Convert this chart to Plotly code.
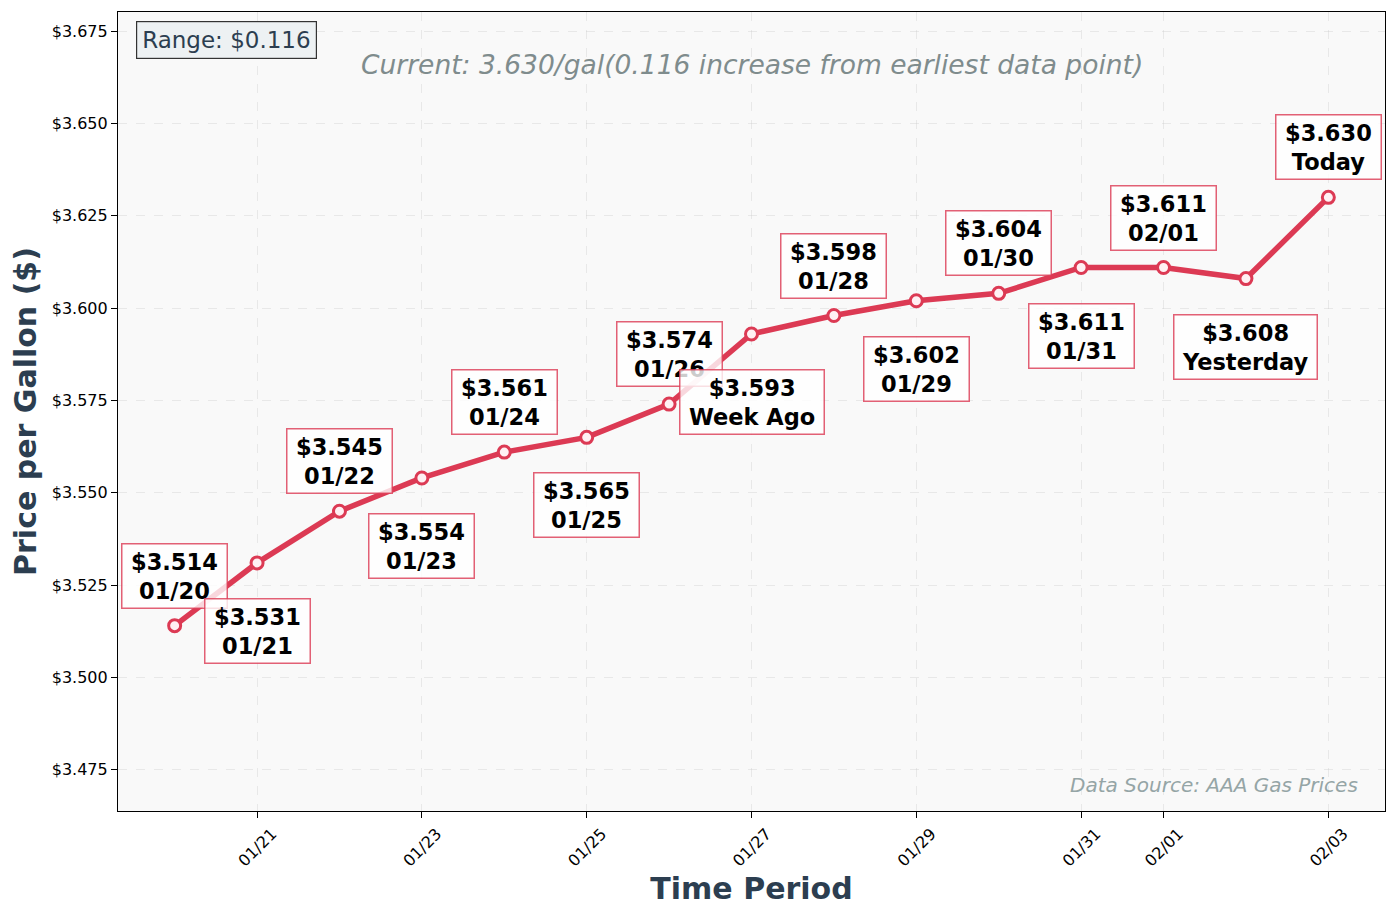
import plotly.graph_objects as go

# gas prices, last 15 days
dates = ["2025-01-20", "2025-01-21", "2025-01-22", "2025-01-23", "2025-01-24",
         "2025-01-25", "2025-01-26", "2025-01-27", "2025-01-28", "2025-01-29",
         "2025-01-30", "2025-01-31", "2025-02-01", "2025-02-02", "2025-02-03"]
prices = [3.514, 3.531, 3.545, 3.554, 3.561, 3.565, 3.574, 3.593,
          3.598, 3.602, 3.604, 3.611, 3.611, 3.608, 3.630]
point_names = ["01/20", "01/21", "01/22", "01/23", "01/24", "01/25", "01/26", "Week Ago",
               "01/28", "01/29", "01/30", "01/31", "02/01", "Yesterday", "Today"]

tick_dates = ["2025-01-21", "2025-01-23", "2025-01-25", "2025-01-27",
              "2025-01-29", "2025-01-31", "2025-02-01", "2025-02-03"]
tick_labels = ["01/21", "01/23", "01/25", "01/27", "01/29", "01/31", "02/01", "02/03"]

y_ticks = [3.475, 3.500, 3.525, 3.550, 3.575, 3.600, 3.625, 3.650, 3.675]

RED = "#dc3a54"
FONT = "DejaVu Sans"
TS = "&#8201;"  # thin space, a bit of side padding for the labels

price_range = max(prices) - min(prices)
change = prices[-1] - prices[0]

fig = go.Figure()

fig.add_trace(go.Scatter(
    x=dates, y=prices, mode="lines+markers",
    line=dict(color=RED, width=5.5),
    marker=dict(size=12, color="rgba(255,240,243,1)", line=dict(color=RED, width=3)),
    showlegend=False, hoverinfo="x+y",
))

# labels alternate above / below the points
for i, (d, p, n) in enumerate(zip(dates, prices, point_names)):
    above = i % 2 == 0
    fig.add_annotation(
        x=d, y=p, text=f"<b>{TS}${p:.3f}{TS}<br>{TS}{n}{TS}</b>", showarrow=False,
        yanchor="bottom" if above else "top",
        yshift=17 if above else -35,
        font=dict(family=FONT, size=22.5, color="black"),
        bgcolor="rgba(255,255,255,0.8)", bordercolor="rgba(220,58,84,0.8)",
        borderwidth=1.5, borderpad=4,
    )

fig.add_annotation(
    xref="paper", yref="paper", x=0.5, y=0.934, yanchor="middle", showarrow=False,
    text=f"<i>Current: {prices[-1]:.3f}/gal({change:.3f} increase from earliest data point)</i>",
    font=dict(family=FONT, size=26.5, color="#7f8c8d"),
)
fig.add_annotation(
    xref="paper", yref="paper", x=0.0142, y=0.989, xanchor="left", yanchor="top",
    showarrow=False, text=f"Range: ${price_range:.3f}",
    font=dict(family=FONT, size=23, color="#2c3e50"),
    bgcolor="#edf1f3", bordercolor="#333333", borderwidth=1.2, borderpad=5,
)
fig.add_annotation(
    xref="paper", yref="paper", x=0.980, y=0.0325, xanchor="right", yanchor="middle",
    showarrow=False, text="<i>Data Source: AAA Gas Prices</i>",
    font=dict(family=FONT, size=20, color="#95a5a6"),
)

fig.update_xaxes(
    type="date", range=["2025-01-19 07:30", "2025-02-03 16:30"],
    tickvals=tick_dates, ticktext=tick_labels, tickangle=-45, ticklabelshift=15,
    tickfont=dict(family=FONT, size=16, color="black"),
    ticks="outside", ticklen=6, tickcolor="black",
    showline=True, linecolor="black", linewidth=1.2, mirror=True,
    showgrid=True, gridcolor="rgba(200,200,200,0.35)", griddash="dash", gridwidth=1,
    title=dict(text="<b>Time Period</b>", font=dict(family=FONT, size=30, color="#2c3e50"), standoff=8),
    zeroline=False,
)
fig.update_yaxes(
    range=[3.4638, 3.6802], tickvals=y_ticks, tickformat="$.3f",
    tickfont=dict(family=FONT, size=16, color="black"),
    ticks="outside", ticklen=6, tickcolor="black",
    showline=True, linecolor="black", linewidth=1.2, mirror=True,
    showgrid=True, gridcolor="rgba(200,200,200,0.35)", griddash="dash", gridwidth=1,
    title=dict(text="<b>Price per Gallon ($)</b>", font=dict(family=FONT, size=30, color="#2c3e50"), standoff=8),
    zeroline=False,
)

# page body has an 8px margin, so the figure is a bit smaller than the window
fig.update_layout(
    width=1381, height=902,
    margin=dict(l=110, r=4, t=4, b=99),
    plot_bgcolor="#f9f9f9", paper_bgcolor="white",
    font=dict(family=FONT),
)

fig.write_html("out.html")
